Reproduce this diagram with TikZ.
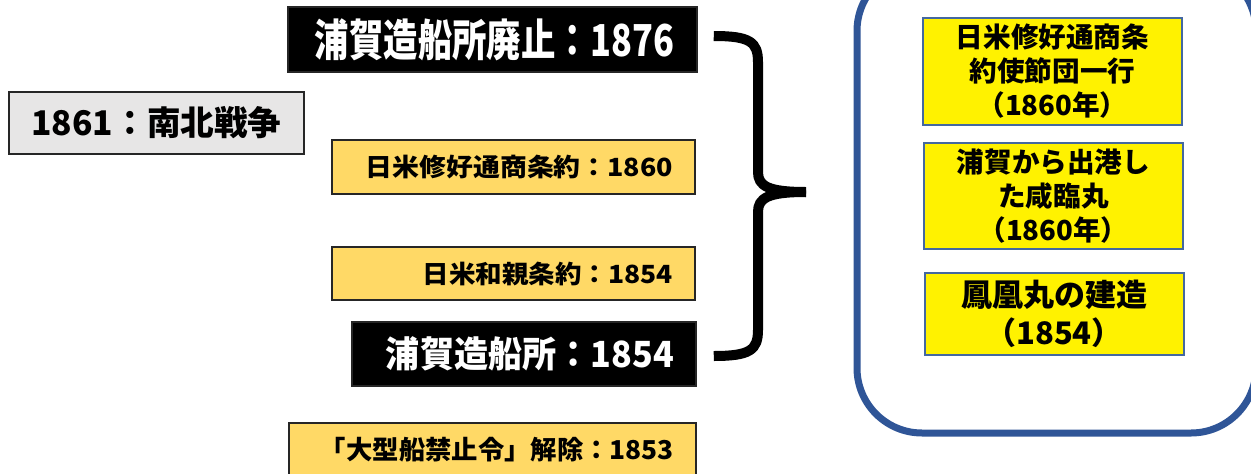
\documentclass[tikz,border=0pt]{standalone}
\usepackage{fontspec}
\usepackage{graphicx}
\setmainfont{Noto Sans CJK JP}
\newcommand{\fitw}[2]{\resizebox{#1}{\height}{#2}}
\definecolor{evorange}{RGB}{255,217,102}
\definecolor{evgray}{RGB}{231,230,230}
\definecolor{frameblue}{RGB}{47,85,151}
\definecolor{shipblue}{RGB}{68,104,160}

\begin{document}
\begin{tikzpicture}[x=1pt, y=-1pt,
  evbox/.style={draw=black!85, line width=1.5pt, inner xsep=22pt, inner ysep=0pt, align=right, font=\bfseries},
  evblack/.style={evbox, fill=black, text=white},
  evorange/.style={evbox, fill=evorange},
  shipbox/.style={draw=shipblue, line width=2pt, fill=yellow, inner sep=0pt, text width=259pt, align=center}]
\useasboundingbox (0,0) rectangle (1251,474);
\clip (0,0) rectangle (1251,474);
\node[evblack, minimum width=409pt, minimum height=65pt, text width=363pt, font=\bfseries\fontsize{44}{44}\selectfont] (closed) at (492.5,39.5) {\fitw{359pt}{浦賀造船所廃止：1876}};
\node[evbox, fill=evgray, align=center, minimum width=295pt, minimum height=62pt, font=\bfseries\fontsize{34}{34}\selectfont] (war) at (156.5,123) {\fitw{250pt}{1861：南北戦争}};
\node[evorange, minimum width=363pt, minimum height=54pt, text width=319pt, font=\bfseries\fontsize{25}{25}\selectfont] (amity) at (513.5,167) {\fitw{307pt}{日米修好通商条約：1860}};
\node[evorange, minimum width=363pt, minimum height=53pt, text width=319pt, font=\bfseries\fontsize{25}{25}\selectfont] (peace) at (513.5,273.5) {\fitw{250pt}{日米和親条約：1854}};
\node[evblack, minimum width=344pt, minimum height=64pt, text width=300pt, font=\bfseries\fontsize{36}{36}\selectfont] (yard) at (524,354) {\fitw{288pt}{浦賀造船所：1854}};
\node[evorange, minimum width=407pt, minimum height=53pt, text width=363pt, font=\bfseries\fontsize{26}{26}\selectfont] (ban) at (492.5,449.5) {\fitw{354pt}{「大型船禁止令」解除：1853}};
\coordinate (btop) at ([xshift=16pt,yshift=3.5pt]closed.east);
\coordinate (bbot) at ([xshift=17pt,yshift=-2pt]yard.east);
\coordinate (btip) at (806,192);
\draw[line width=10pt] (btop) .. controls (750,36) and (758,42) .. (758,62) -- (758,172) .. controls (758,186) and (768,192) .. (btip);
\draw[line width=10pt] (bbot) .. controls (750,356) and (758,350) .. (758,330) -- (758,212) .. controls (758,198) and (768,192) .. (btip);
\draw[frameblue, line width=7pt, rounded corners=65pt] (857,-34) rectangle (1256,433);
\node[shipbox, minimum height=107pt, font=\bfseries\fontsize{27.6}{34}\selectfont] (mission) at (1052.5,71.5) {日米修好通商条\\約使節団一行\\（1860年）};
\node[shipbox, minimum height=106pt, font=\bfseries\fontsize{27.6}{34}\selectfont] (kanrin) at (1053.5,196) {浦賀から出港し\\た咸臨丸\\（1860年）};
\node[shipbox, minimum height=82pt, font=\bfseries\fontsize{31}{38}\selectfont] (hoo) at (1054,314) {鳳凰丸の建造\\（1854）};
\end{tikzpicture}
\end{document}
